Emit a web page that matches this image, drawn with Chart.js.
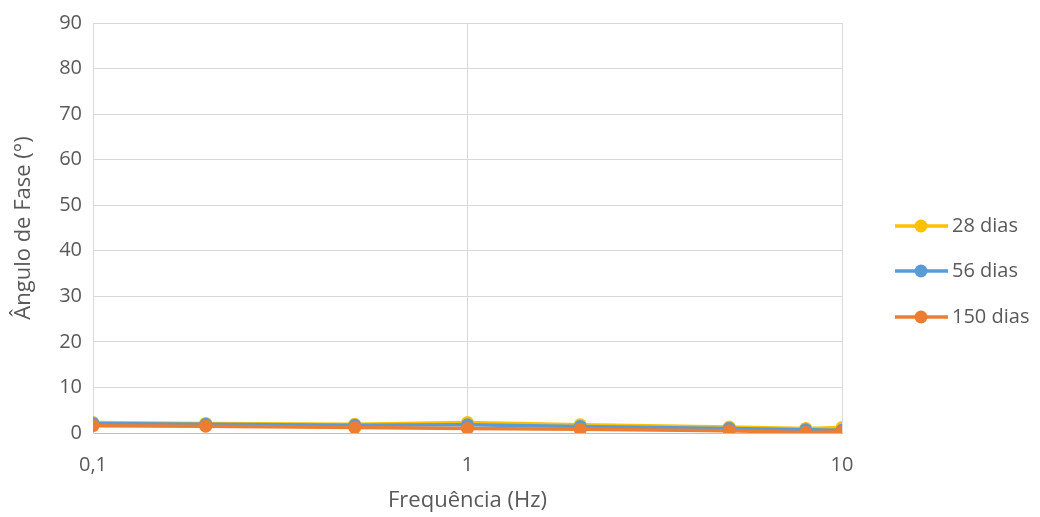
<!DOCTYPE html>
<html>
<head>
<meta charset="utf-8">
<script src="https://cdn.jsdelivr.net/npm/chart.js@4.4.1/dist/chart.umd.min.js"></script>
<style>
  html, body { margin: 0; padding: 0; background: #ffffff; }
  #wrap { width: 1040px; height: 517px; }
</style>
</head>
<body>
<div id="wrap"><canvas id="c" width="1040" height="517"></canvas></div>
<script>
// Frequencies (Hz) and phase angle (°) per curing age
const frequencies = [0.1, 0.2, 0.5, 1, 2, 5, 8, 10];
const fase28 = [2.3, 2.1, 1.9, 2.3, 1.8, 1.3, 1.0, 1.2];
const fase56 = [2.1, 1.9, 1.7, 1.8, 1.4, 1.0, 0.7, 0.6];
const fase150 = [1.6, 1.5, 1.2, 1.0, 0.8, 0.5, 0.1, 0.3];
const seriesLabels = ['28 dias', '56 dias', '150 dias'];
const seriesColors = ['#FFC000', '#5B9BD5', '#ED7D31'];
const xTicks = [0.1, 1, 10];

const FONT = '"Open Sans", sans-serif';
const TXT = '#595959';

function pts(vals) { return frequencies.map((f, i) => ({ x: f, y: vals[i] })); }

const seriesValues = [fase28, fase56, fase150];
const datasets = seriesValues.map((vals, i) => ({
  label: seriesLabels[i],
  data: pts(vals),
  borderColor: seriesColors[i],
  backgroundColor: seriesColors[i],
  borderWidth: 3.5,
  pointRadius: 6.5,
  pointHoverRadius: 6.5,
  pointBorderWidth: 0,
  tension: 0,
  order: 3 - i
}));

// Legend drawn at the right: short line with a round marker, then the label
const sideLegend = {
  id: 'sideLegend',
  afterDraw(chart) {
    const ctx = chart.ctx;
    const rows = [226, 271, 317];
    ctx.save();
    chart.data.datasets.forEach((ds, i) => {
      const y = rows[i];
      ctx.strokeStyle = ds.borderColor;
      ctx.lineWidth = 3.5;
      ctx.beginPath();
      ctx.moveTo(895, y);
      ctx.lineTo(948, y);
      ctx.stroke();
      ctx.fillStyle = ds.borderColor;
      ctx.beginPath();
      ctx.arc(921, y, 6.5, 0, Math.PI * 2);
      ctx.fill();
      ctx.fillStyle = TXT;
      ctx.font = '20px ' + FONT;
      ctx.textBaseline = 'middle';
      ctx.textAlign = 'left';
      ctx.fillText(ds.label, 952, y);
    });
    ctx.restore();
  }
};

new Chart(document.getElementById('c'), {
  type: 'line',
  data: { datasets },
  options: {
    responsive: false,
    animation: false,
    layout: { padding: { left: 9, right: 198, top: 4, bottom: 3 } },
    plugins: { legend: { display: false }, tooltip: { enabled: false } },
    scales: {
      x: {
        type: 'logarithmic',
        min: 0.1,
        max: 10,
        afterBuildTicks(scale) { scale.ticks = xTicks.map(v => ({ value: v })); },
        afterFit(scale) { scale.height = 81; },
        ticks: {
          color: TXT,
          font: { family: FONT, size: 20 },
          padding: 20,
          maxRotation: 0,
          autoSkip: false,
          callback: v => String(v).replace('.', ',')
        },
        grid: { color: '#d9d9d9', lineWidth: 1, drawTicks: false },
        border: { color: '#bfbfbf' },
        title: {
          display: true,
          text: 'Frequência (Hz)',
          color: TXT,
          font: { family: FONT, size: 22 },
          padding: { top: 0, bottom: 0 }
        }
      },
      y: {
        min: 0,
        max: 90,
        afterFit(scale) { scale.width = 84; },
        ticks: {
          stepSize: 10,
          color: TXT,
          font: { family: FONT, size: 20 },
          padding: 11
        },
        grid: { color: '#d9d9d9', lineWidth: 1, drawTicks: false },
        border: { color: '#d9d9d9' },
        title: {
          display: true,
          text: 'Ângulo de Fase (°)',
          color: TXT,
          font: { family: FONT, size: 22 },
          padding: { top: 2, bottom: 0 }
        }
      }
    }
  },
  plugins: [sideLegend]
});
</script>
</body>
</html>
